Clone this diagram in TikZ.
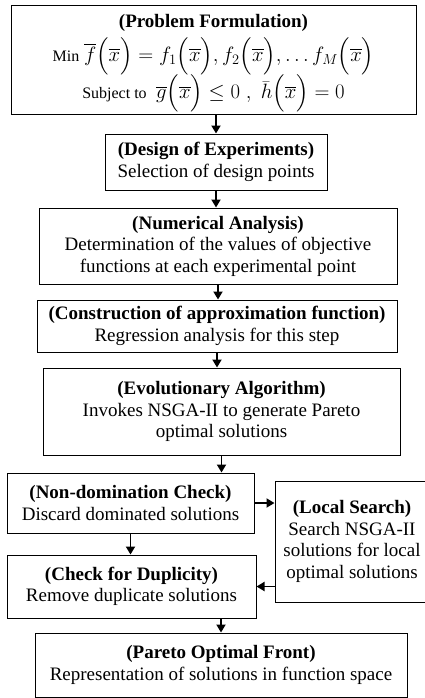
\documentclass[tikz,border=0pt]{standalone}
\usepackage{amsmath}
\usepackage[no-math]{fontspec}
\setmainfont{Liberation Serif}
\usetikzlibrary{arrows.meta}

\newcommand{\mathline}[1]{{\fontsize{21}{25}\selectfont$#1$}}

\begin{document}
\begin{tikzpicture}[x=1pt,y=-1pt,font=\fontsize{19}{21.5}\selectfont,
  box/.style={draw,line width=1pt,align=center,inner sep=2pt},
  arr/.style={-{Triangle[length=8pt,width=9pt]},line width=1.8pt}]
\useasboundingbox (0,0) rectangle (425,698);
\node [box,minimum width=405pt,minimum height=109pt] (prob) at (213.5,60.5)
  {\rule{0pt}{19pt}\textbf{(Problem Formulation)}\\[5pt]
   {\fontsize{16}{19}\selectfont Min}\ \mathline{\overline{f}\Bigl(\overline{x}\Bigr)=f_1\Bigl(\overline{x}\Bigr),f_2\Bigl(\overline{x}\Bigr),\ldots f_M\Bigl(\overline{x}\Bigr)}\\[-1pt]
   {\fontsize{16}{19}\selectfont Subject to}\ \ \mathline{\overline{g}\Bigl(\overline{x}\Bigr)\le 0\;,\;\bar{h}\Bigl(\overline{x}\Bigr)=0}};
\node [box,minimum width=222pt,minimum height=56pt] (doe) at (216,162)
  {\textbf{(Design of Experiments)}\\ Selection of design points};
\node [box,minimum width=358pt,minimum height=76pt] (num) at (218,246)
  {\textbf{(Numerical Analysis)}\\ Determination of the values of objective\\ functions at each experimental point};
\node [box,minimum width=360pt,minimum height=52pt] (appr) at (217,326)
  {\textbf{(Construction of approximation function)}\\ Regression analysis for this step};
\node [box,minimum width=357pt,minimum height=87pt] (evo) at (221.5,411.5)
  {\textbf{(Evolutionary Algorithm)}\\ Invokes NSGA-II to generate Pareto\\ optimal solutions};
\node [box,minimum width=247pt,minimum height=60pt] (nondom) at (130.5,503)
  {\textbf{(Non-domination Check)}\\ Discard dominated solutions};
\node [box,minimum width=154pt,minimum height=121pt] (local) at (352,541.5)
  {\textbf{(Local Search)}\\ Search NSGA-II\\ solutions for local\\ optimal solutions};
\node [box,minimum width=249pt,minimum height=63pt] (dupl) at (131.5,586.5)
  {\textbf{(Check for Duplicity)}\\ Remove duplicate solutions};
\node [box,minimum width=372pt,minimum height=64pt] (front) at (221,665)
  {\textbf{(Pareto Optimal Front)}\\ Representation of solutions in function space};

\draw [arr] (prob.south -| doe.north) -- (doe.north);
\draw [arr] (doe.south) -- (doe.south |- num.north);
\draw [arr] (num.south) -- (num.south |- appr.north);
\draw [arr] (appr.south) -- (appr.south |- evo.north);
\draw [arr] (evo.south) -- (evo.south |- nondom.north);
\draw [arr] (nondom.east) -- (nondom.east -| local.west);
\draw [arr] (nondom.south) -- (nondom.south |- dupl.north);
\draw [arr] (dupl.east -| local.west) -- (dupl.east);
\draw [arr] (front.north |- dupl.south) -- (front.north);
\end{tikzpicture}
\end{document}
